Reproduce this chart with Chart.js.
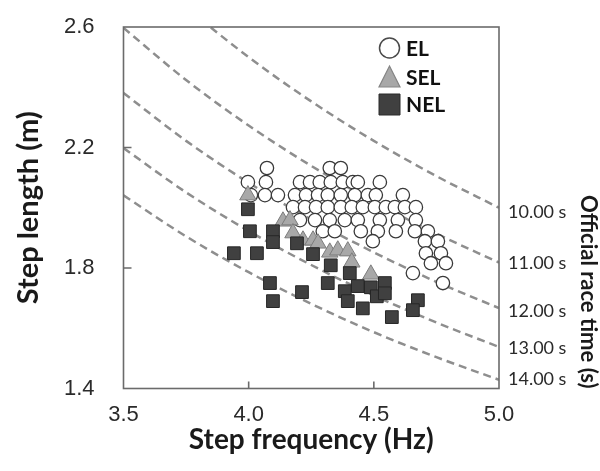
<!DOCTYPE html>
<html><head><meta charset="utf-8">
<script src="https://cdn.jsdelivr.net/npm/chart.js@4"></script>
<style>html,body{margin:0;padding:0;background:#fff}</style>
</head><body>
<canvas id="c" width="600" height="471"></canvas>
<script>
// ---- data ----
const xTickValues = [3.5, 4.0, 4.5, 5.0];
const yTickValues = [1.4, 1.8, 2.2, 2.6];
const raceTimeLabels = ['10.00 s', '11.00 s', '12.00 s', '13.00 s', '14.00 s'];
const raceTimeLabelPos = [1.985, 1.816, 1.657, 1.534, 1.431];

const curveFreq = [3.5, 3.75, 4.0, 4.25, 4.5, 4.75, 5.0];
const curve10s = [2.857, 2.667, 2.500, 2.353, 2.222, 2.105, 2.000];
const curve11s = [2.597, 2.424, 2.273, 2.139, 2.020, 1.914, 1.818];
const curve12s = [2.381, 2.222, 2.083, 1.961, 1.852, 1.754, 1.667];
const curve13s = [2.198, 2.051, 1.923, 1.810, 1.709, 1.619, 1.538];
const curve14s = [2.041, 1.905, 1.786, 1.681, 1.587, 1.504, 1.429];

const elFreq = [4.073,4.324,4.368,
  3.997,4.069,4.205,4.245,4.284,4.328,4.376,4.416,4.436,4.524,
  4.009,4.065,4.117,4.185,4.229,4.277,4.316,4.368,4.424,4.476,4.508,4.616,
  4.177,4.225,4.269,4.316,4.368,4.412,4.456,4.504,4.548,4.584,4.624,4.668,
  4.205,4.265,4.324,4.384,4.436,4.524,4.596,4.668,
  4.296,4.344,4.448,4.516,4.588,4.664,4.716,
  4.496,4.704,4.756,
  4.708,4.768,
  4.728,4.788,
  4.656,
  4.776];
const elLen = [2.132,2.132,2.132,
  2.085,2.085,2.085,2.085,2.085,2.085,2.085,2.085,2.085,2.085,
  2.042,2.042,2.042,2.042,2.042,2.042,2.042,2.042,2.042,2.042,2.042,2.042,
  2.002,2.002,2.002,2.002,2.002,2.002,2.002,2.002,2.002,2.002,2.002,2.002,
  1.959,1.959,1.959,1.959,1.959,1.959,1.959,1.959,
  1.922,1.922,1.922,1.922,1.922,1.922,1.922,
  1.889,1.889,1.889,
  1.849,1.849,
  1.816,1.816,
  1.783,
  1.750];

const selFreq = [3.997,4.137,4.165,4.177,4.217,4.257,4.277,4.324,4.356,4.396,4.412,4.488];
const selLen  = [2.042,1.955,1.959,1.916,1.892,1.892,1.882,1.852,1.859,1.856,1.819,1.779];

const nelFreq = [3.997,4.005,4.097,4.097,3.941,4.033,4.193,4.257,4.328,4.085,4.097,4.213,4.316,
  4.384,4.396,4.404,4.436,4.456,4.488,4.512,4.544,4.544,4.572,4.676,4.656];
const nelLen  = [1.995,1.922,1.922,1.886,1.849,1.849,1.882,1.846,1.809,1.750,1.690,1.720,1.750,
  1.723,1.690,1.783,1.740,1.666,1.736,1.706,1.750,1.716,1.637,1.693,1.660];

const legendItems = ['EL', 'SEL', 'NEL'];

// ---- build ----
const pts = (xs, ys) => xs.map((x, i) => ({x: x, y: ys[i]}));
const curveSet = (ys) => ({
  data: pts(curveFreq, ys), showLine: true, pointRadius: 0, borderColor: '#8e8e8e',
  borderWidth: 2.5, borderDash: [8, 5], cubicInterpolationMode: 'monotone', fill: false
});
const noPad = s => { s.paddingTop = 0; s.paddingBottom = 0; s.paddingLeft = 0; s.paddingRight = 0; };

const frameAndLegend = {
  id: 'frameAndLegend',
  afterDatasetsDraw(chart) {
    const ctx = chart.ctx;
    const a = chart.chartArea;
    const xs = chart.scales.x, ys = chart.scales.y;
    ctx.save();
    ctx.strokeStyle = '#6b6b6b';
    ctx.lineWidth = 1.6;
    ctx.strokeRect(a.left, a.top, a.right - a.left, a.bottom - a.top);
    ctx.beginPath();
    xTickValues.slice(1, -1).forEach(v => {
      const px = xs.getPixelForValue(v);
      ctx.moveTo(px, a.bottom); ctx.lineTo(px, a.bottom - 7);
    });
    yTickValues.slice(1, -1).forEach(v => {
      const py = ys.getPixelForValue(v);
      ctx.moveTo(a.left, py); ctx.lineTo(a.left + 8, py);
    });
    ctx.stroke();

    // legend
    const mx = a.left + 266, tx = a.left + 282.5;
    const rows = [a.top + 21, a.top + 50, a.top + 77.5];
    ctx.beginPath(); ctx.arc(mx, rows[0], 10, 0, Math.PI * 2);
    ctx.fillStyle = '#ffffff'; ctx.fill();
    ctx.lineWidth = 1.5; ctx.strokeStyle = '#4a4a4a'; ctx.stroke();
    ctx.beginPath();
    ctx.moveTo(mx, rows[1] - 11); ctx.lineTo(mx + 10.5, rows[1] + 10); ctx.lineTo(mx - 10.5, rows[1] + 10); ctx.closePath();
    ctx.fillStyle = '#a8a8a8'; ctx.fill();
    ctx.lineWidth = 1.2; ctx.strokeStyle = '#858585'; ctx.stroke();
    ctx.beginPath(); ctx.rect(mx - 10.5, rows[2] - 10.5, 21, 21);
    ctx.fillStyle = '#404040'; ctx.fill();
    ctx.lineWidth = 1; ctx.strokeStyle = '#2a2a2a'; ctx.stroke();
    ctx.fillStyle = '#111';
    ctx.font = 'bold 21px Lato';
    ctx.textBaseline = 'middle'; ctx.textAlign = 'left';
    legendItems.forEach((t, i) => ctx.fillText(t, tx, rows[i] + 1));
    ctx.restore();
  }
};

new Chart(document.getElementById('c'), {
  type: 'scatter',
  data: {
    datasets: [
      {label: 'NEL', data: pts(nelFreq, nelLen), pointStyle: 'rect', pointRadius: 9,
       backgroundColor: '#404040', borderColor: '#262626', borderWidth: 1},
      {label: 'SEL', data: pts(selFreq, selLen), pointStyle: 'triangle', pointRadius: 9.5,
       backgroundColor: '#a8a8a8', borderColor: '#7c7c7c', borderWidth: 1},
      {label: 'EL', data: pts(elFreq, elLen), pointStyle: 'circle', pointRadius: 6.7,
       backgroundColor: '#ffffff', borderColor: '#3a3a3a', borderWidth: 1.3},
      curveSet(curve10s), curveSet(curve11s), curveSet(curve12s), curveSet(curve13s), curveSet(curve14s)
    ]
  },
  options: {
    responsive: false, animation: false, devicePixelRatio: 1,
    layout: {padding: {top: 27, left: 0, right: 0, bottom: 0}},
    plugins: {legend: {display: false}, tooltip: {enabled: false}},
    scales: {
      x: {
        type: 'linear', min: 3.5, max: 5.0,
        afterBuildTicks: s => { s.ticks = xTickValues.map(v => ({value: v})); },
        afterFit: s => { s.height = 82.5; noPad(s); },
        grid: {display: false, drawTicks: false}, border: {display: false},
        ticks: {callback: v => Number(v).toFixed(1), font: {family: 'Liberation Sans', size: 22}, color: '#2a2a2a', padding: 13, autoSkip: false, maxRotation: 0},
        title: {display: true, text: 'Step frequency (Hz)', font: {family: 'Lato', weight: 'bold', size: 28}, color: '#1a1a1a', padding: {top: 0, bottom: 14}}
      },
      y: {
        type: 'linear', min: 1.4, max: 2.6,
        afterBuildTicks: s => { s.ticks = yTickValues.map(v => ({value: v})); },
        afterFit: s => { s.width = 123.5; noPad(s); },
        grid: {display: false, drawTicks: false}, border: {display: false},
        ticks: {callback: v => Number(v).toFixed(1), font: {family: 'Liberation Sans', size: 22}, color: '#2a2a2a', padding: 29, autoSkip: false},
        title: {display: true, text: 'Step length (m)', font: {family: 'Lato', weight: 'bold', size: 29}, color: '#1a1a1a', padding: {top: 11, bottom: 0}}
      },
      y2: {
        type: 'linear', position: 'right', min: 1.4, max: 2.6,
        afterBuildTicks: s => { s.ticks = raceTimeLabelPos.map(v => ({value: v})); },
        afterFit: s => { s.width = 101; noPad(s); },
        grid: {display: false, drawTicks: false}, border: {display: false},
        ticks: {callback: (v, i) => raceTimeLabels[i], font: {family: 'Lato', size: 18}, color: '#2a2a2a', padding: 9, autoSkip: false},
        title: {display: true, text: 'Official race time (s)', align: 'start', font: {family: 'Lato', weight: 'bold', size: 22, lineHeight: 1.1}, color: '#1a1a1a', padding: {top: 0, bottom: 0}}
      }
    }
  },
  plugins: [frameAndLegend]
});
</script>
</body></html>
